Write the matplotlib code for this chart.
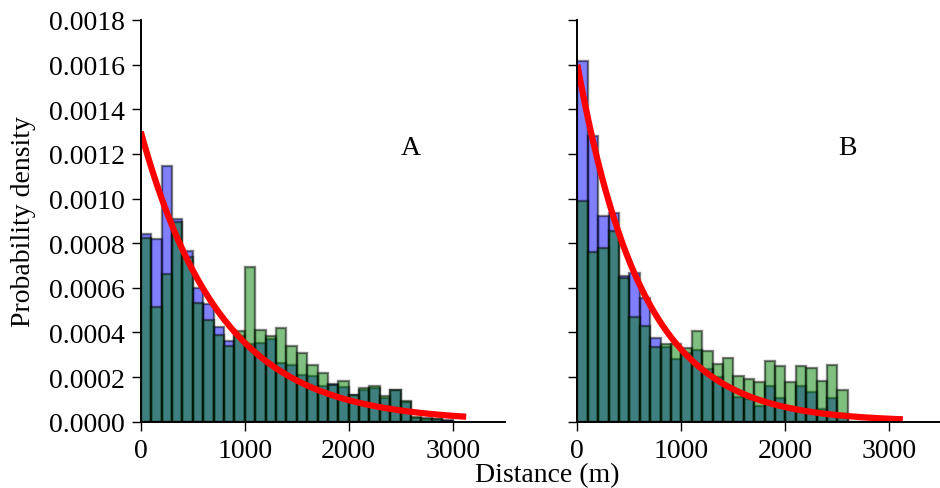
import numpy as np
import matplotlib
matplotlib.use("Agg")
import matplotlib.pyplot as plt

plt.rcParams['font.family'] = ['Liberation Serif', 'DejaVu Serif']

bin_edges = list(range(0, 3001, 100))

# Panel A densities (per 100 m bin)
a_blue = [0.00084, 0.00082, 0.001147, 0.000908, 0.000763, 0.000598, 0.000527, 0.000423,
          0.000362, 0.000385, 0.00035, 0.000351, 0.00037, 0.000263, 0.000254, 0.000211,
          0.000206, 0.00016, 0.000169, 0.000154, 0.00012, 0.00014, 0.00015, 0.000107,
          0.000142, 0.00009, 0.000018, 0.000013, 0.00001, 0.000006]
a_green = [0.000822, 0.000515, 0.000662, 0.000896, 0.000737, 0.000532, 0.000456, 0.00039,
           0.000341, 0.000408, 0.000692, 0.000412, 0.000383, 0.000418, 0.000338, 0.000306,
           0.000254, 0.000218, 0.000165, 0.000184, 0.000118, 0.000150, 0.000159, 0.000117,
           0.000140, 0.000094, 0.000020, 0.000015, 0.00001, 0.000005]

# Panel B densities
b_blue = [0.001615, 0.001282, 0.00092, 0.000934, 0.000654, 0.000666, 0.000554, 0.000375,
          0.000335, 0.000281, 0.00031, 0.000323, 0.000236, 0.0002, 0.000155, 0.00011,
          0.0001, 0.00007, 0.000159, 0.000108, 0.000065, 0.000161, 0.000134, 0.000057,
          0.000105, 0.000035, 0.0, 0.0, 0.0, 0.0]
b_green = [0.000988, 0.000759, 0.000778, 0.000856, 0.000643, 0.00047, 0.00043, 0.000333,
           0.00035, 0.00035, 0.00033, 0.000408, 0.000318, 0.000257, 0.000284, 0.000206,
           0.000191, 0.000179, 0.000272, 0.000251, 0.000177, 0.000251, 0.000239, 0.000184,
           0.000254, 0.000142, 0.0, 0.0, 0.0, 0.0]

rate_a = 0.0013
rate_b = 0.0016
curve_max = 3130

x_ticks = [0, 1000, 2000, 3000]
y_ticks = [0.0, 0.0002, 0.0004, 0.0006, 0.0008, 0.0010, 0.0012, 0.0014, 0.0016, 0.0018]

fig = plt.figure(figsize=(9.4, 4.89), dpi=100)
ax1 = fig.add_axes([0.1497, 0.1356, 0.3872, 0.8215])
ax2 = fig.add_axes([0.6142, 0.1356, 0.3872, 0.8215])

lefts = np.array(bin_edges[:-1])
width = 100

for ax, blue, green, rate, label, show_ylabels in [
        (ax1, a_blue, a_green, rate_a, 'A', True),
        (ax2, b_blue, b_green, rate_b, 'B', False)]:
    ax.bar(lefts, blue, width=width, align='edge', color=(0, 0, 1, 0.5),
           edgecolor=(0, 0, 0, 0.5), linewidth=1.7)
    ax.bar(lefts, green, width=width, align='edge', color=(0, 0.5, 0, 0.5),
           edgecolor=(0, 0, 0, 0.5), linewidth=1.7)
    xs = np.linspace(0, curve_max, 400)
    ax.plot(xs, rate * np.exp(-rate * xs), color='red', linewidth=4.5, solid_capstyle='butt')
    ax.set_xlim(0, 3500)
    ax.set_ylim(0, 0.0018)
    ax.set_xticks(x_ticks)
    ax.set_yticks(y_ticks)
    if show_ylabels:
        ax.set_yticklabels([f"{v:.4f}" for v in y_ticks])
    else:
        ax.set_yticklabels([])
    ax.spines['top'].set_visible(False)
    ax.spines['right'].set_visible(False)
    ax.spines['left'].set_linewidth(1.4)
    ax.spines['bottom'].set_linewidth(1.4)
    ax.tick_params(direction='out', length=6.5, width=1.0, labelsize=20, pad=5)
    ax.text(2600, 0.00123, label, fontsize=20, ha='center', va='center')

ax1.set_ylabel('Probability density', fontsize=20)
ax1.yaxis.set_label_coords(-0.288, 0.5)
fig.text(0.582, 0.027, 'Distance (m)', fontsize=20, ha='center', va='center')

fig.savefig('out.png', dpi=100)
